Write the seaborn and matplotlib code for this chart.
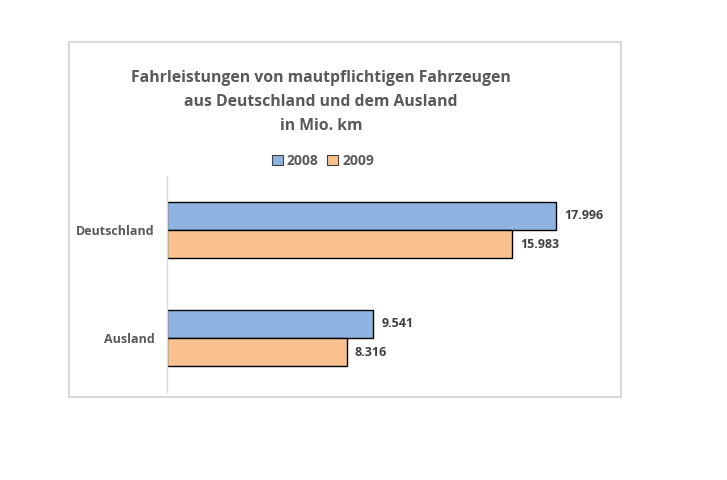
import matplotlib
matplotlib.use('Agg')
import matplotlib.pyplot as plt
import seaborn as sns
import pandas as pd
from matplotlib.patches import Rectangle

# data
regions = ['Deutschland', 'Ausland']
years = ['2008', '2009']
km_2008 = [17996, 9541]
km_2009 = [15983, 8316]

blue = '#8EB3E1'
orange = '#F9C18F'
text_grey = '#595959'

df = pd.DataFrame({
    'Region': regions * 2,
    'Jahr': [years[0]] * 2 + [years[1]] * 2,
    'Mio km': km_2008 + km_2009,
})

sns.set_theme(style='white')
plt.rcParams['font.family'] = ['Open Sans', 'DejaVu Sans']

fig = plt.figure(figsize=(7.27, 4.8), dpi=100)
fig.patch.set_facecolor('white')

# chart frame
fig.patches.append(Rectangle((69 / 727, 1 - 397 / 480), 552 / 727, 355 / 480,
                             transform=fig.transFigure, fill=False,
                             edgecolor='#D9D9D9', linewidth=1.5))

ax = fig.add_axes([167 / 727, 88 / 480, 432 / 727, 216 / 480])
sns.barplot(data=df, y='Region', x='Mio km', hue='Jahr', orient='h',
            palette=[blue, orange], saturation=1, width=0.52,
            edgecolor='black', linewidth=1.0, ax=ax, legend=False)

ax.set_xlim(0, 20000)
ax.set_ylim(1.5, -0.5)
ax.set_xlabel('')
ax.set_ylabel('')
ax.set_xticks([])
for s in ['top', 'right', 'bottom']:
    ax.spines[s].set_visible(False)
ax.spines['left'].set_color('#D9D9D9')
ax.spines['left'].set_linewidth(1.0)
ax.tick_params(axis='y', length=0, pad=9)
for lab in ax.get_yticklabels():
    lab.set_fontsize(9)
    lab.set_fontweight('bold')
    lab.set_color(text_grey)

for cont in ax.containers:
    ax.bar_label(cont, labels=[f'{v:,.0f}'.replace(',', '.') for v in cont.datavalues],
                 padding=6, fontsize=9, fontweight='bold', color='#404040')

fig.text(321 / 727, 1 - 102 / 480,
         'Fahrleistungen von mautpflichtigen Fahrzeugen\naus Deutschland und dem Ausland\nin Mio. km',
         ha='center', va='center', fontsize=11.3, fontweight='bold',
         color=text_grey, linespacing=1.65)

handles = [Rectangle((0, 0), 1, 1, facecolor=c, edgecolor='#404040', linewidth=0.8)
           for c in [blue, orange]]
fig.legend(handles, years, loc='center', bbox_to_anchor=(323 / 727, 1 - 161 / 480),
           ncol=2, frameon=False, handlelength=0.8, handleheight=0.8,
           handletextpad=0.3, columnspacing=0.6,
           prop={'size': 10, 'weight': 'bold'}, labelcolor=text_grey)

fig.savefig('out.png', dpi=100)
